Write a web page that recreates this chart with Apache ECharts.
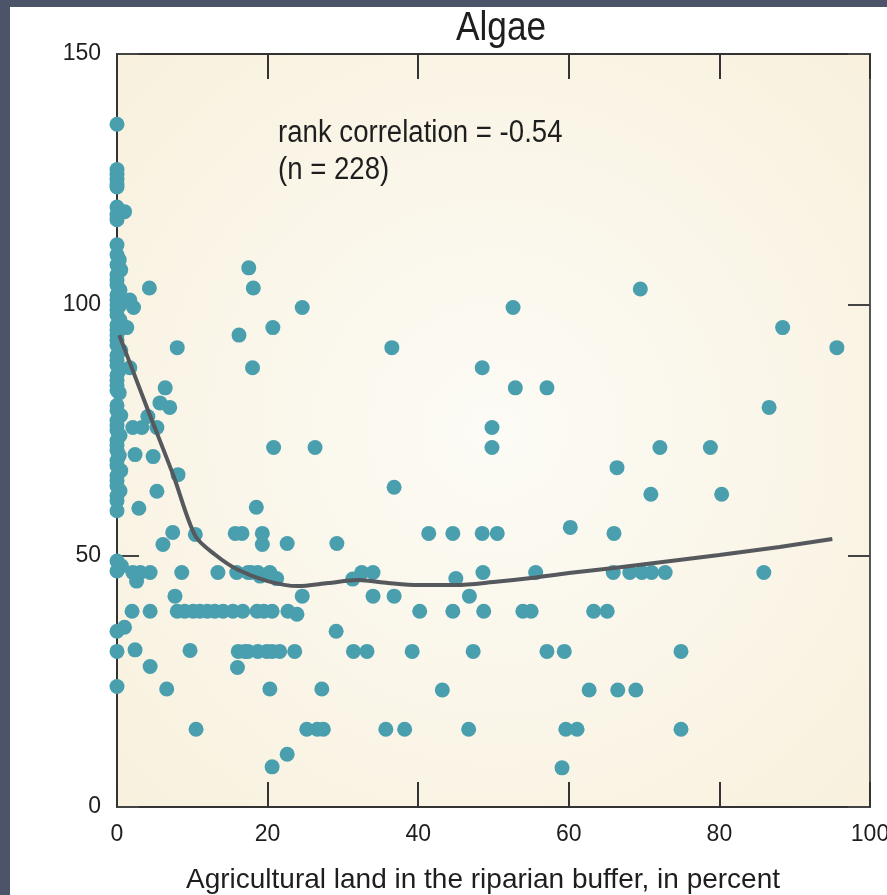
<!DOCTYPE html>
<html>
<head>
<meta charset="utf-8">
<script src="https://cdn.jsdelivr.net/npm/echarts@6/dist/echarts.min.js"></script>
<style>
html,body{margin:0;padding:0;background:#fff;}
#chart{width:887px;height:895px;}
</style>
</head>
<body>
<div id="chart"></div>
<script>
// Tick values
const xTicks = [0, 20, 40, 60, 80, 100];
const yTicks = [0, 50, 100, 150];

// Sites: [agricultural land in riparian buffer (%), algae value]
const siteColumnZero = [
  [0,136],[0,127],[0,126],[0,125],[0,124],[0,123.5],[0,119.5],[0,118],[0,117],
  [0,112],[0,110],[0,108],[0,106],[0,105],[0,104],[0,102],[0,101],[0,100],[0,99],
  [0,98],[0,96],[0,95],[0,94],[0,93],[0,92],[0,90],[0,89],[0,88],[0,86],[0,85],
  [0,84],[0,83],[0,80],[0,79],[0,77],[0,76],[0,75],[0,73],[0,72],[0,71],[0,69],
  [0,68],[0,66],[0,65],[0,64],[0,62],[0,61],[0,59],[0,49],[0,47],[0,35],[0,31],[0,24],
  [0.4,103],[0.4,97],[0.5,91],[0.3,87],[0.5,78],[0.4,74],[0.3,70],[0.5,67],[0.4,63],
  [0.3,109],[0.5,107],[0.4,100],[0.3,82.5]
];
const siteLowAg = [
  [1,118.6],[1.7,101],[2.2,99.5],[1.3,95.5],[1.7,87.5],[1,35.8],[2.4,31.3],[2.1,46.7],
  [3.1,46.7],[2.6,45],[4.4,46.7],[2,39],[4.4,39],[2.1,75.6],[3.3,75.6],[4.1,77.8],
  [5.3,75.6],[2.4,70.2],[4.8,69.8],[2.9,59.5],[5.3,62.9],[4.3,103.4],[8,91.5],
  [6.4,83.5],[5.7,80.5],[7,79.6],[8.1,66.2],[7.4,54.7],[6.1,52.3],[4.4,28],[6.6,23.5],
  [8.6,46.7],[7.7,42],[10.4,54.3],[9.7,31.2],[10.5,15.5],[13.4,46.7],[0.6,48]
];
const siteMidAg = [
  [8,39],[9,39],[10.1,39],[11,39],[12,39],[13,39],[14.1,39],[15.4,39],[16.7,39],
  [18.6,39],[19.5,39],[20.6,39],[22.7,39],[23.9,38.4],
  [15.9,46.7],[17.4,46.7],[17.8,46.7],[18.7,46.7],[19,46],[20.3,46.7],[21.2,45.5],
  [15.7,54.5],[16.6,54.5],[19.3,54.5],[19.3,52.3],
  [16.1,31],[17,31],[17.4,31],[18.7,31],[19.9,31],[20.6,31],[21.6,31],[23.6,31],
  [16,27.8],[20.3,23.5],[27.2,23.5],[24.6,42],
  [16.2,94],[17.5,107.4],[18.1,103.4],[20.7,95.5],[18,87.5],[18.5,59.7],
  [24.6,99.5],[20.8,71.6],[26.3,71.6],[22.6,52.5],[29.2,52.5],[22.6,10.5],[20.6,8],
  [25.2,15.5],[26.6,15.5],[27.4,15.5],
  [29.1,35],[31.3,45.4],[32.5,46.7],[34,46.7],[34,42],[36.8,42],[31.4,31],[33.2,31],
  [35.7,15.5],[38.2,15.5],[36.5,91.5],[36.8,63.7],[39.2,31],[40.2,39]
];
const siteHighAg = [
  [41.4,54.5],[44.6,54.5],[48.5,54.5],[50.5,54.5],[45,45.5],[48.6,46.7],[46.8,42],
  [44.6,39],[48.7,39],[47.3,31],[43.2,23.3],[46.7,15.5],[52.6,99.5],[48.5,87.5],
  [52.9,83.5],[57.1,83.5],[49.8,75.6],[49.8,71.6],[53.9,39],[55,39],[55.6,46.7],
  [57.1,31],[59.4,31],[59.6,15.5],[61.1,15.5],[59.1,7.8],[60.2,55.7],
  [62.7,23.3],[66.5,23.3],[68.9,23.3],[63.3,39],[65.1,39],[74.9,31],[74.9,15.5],
  [66,54.5],[65.9,46.7],[68.1,46.7],[69.7,46.7],[71,46.7],[72.8,46.7],[85.9,46.7],
  [66.4,67.6],[70.9,62.3],[80.3,62.3],[72.1,71.6],[78.8,71.6],[86.6,79.6],
  [69.5,103.2],[88.4,95.5],[95.6,91.5]
];
// Smoothed (loess-like) trend line
const trendLine = [
  [0.3,94],[4,79.5],[7.5,66],[10.4,54],[13,50.3],[16,47.3],[20,45],[24,44],[28,44.6],
  [32,45.2],[36,44.6],[40,44.2],[45,44.2],[50,44.8],[55,45.6],[60,46.6],[66,47.6],
  [73,48.9],[80,50.2],[88,51.8],[95,53.4]
];

const sites = siteColumnZero.concat(siteLowAg, siteMidAg, siteHighAg);

const FONT = '"Liberation Sans", Arial, sans-serif';
const INK = '#1e1e1e';

const chart = echarts.init(document.getElementById('chart'), null, {renderer: 'canvas'});

function xAxisCfg(pos, labels) {
  return {
    type: 'value', position: pos, min: xTicks[0], max: xTicks[xTicks.length - 1],
    interval: xTicks[1] - xTicks[0],
    axisLine: {show: true, onZero: false, lineStyle: {color: '#333', width: 2}},
    axisTick: {show: true, inside: true, length: 25, lineStyle: {color: '#333', width: 2}},
    axisLabel: {show: labels, margin: 16, color: INK, fontFamily: FONT, fontSize: 23},
    splitLine: {show: false}
  };
}
function yAxisCfg(pos, labels) {
  return {
    type: 'value', position: pos, min: yTicks[0], max: yTicks[yTicks.length - 1],
    interval: yTicks[1] - yTicks[0],
    axisLine: {show: true, onZero: false, lineStyle: {color: pos === 'right' ? '#555' : '#333', width: 2}},
    axisTick: {show: true, inside: true, length: 22, lineStyle: {color: '#444', width: 2}},
    axisLabel: {show: labels, margin: 16, color: INK, fontFamily: FONT, fontSize: 23},
    splitLine: {show: false}
  };
}

const xBottom = xAxisCfg('bottom', true);
xBottom.name = 'Agricultural land in the riparian buffer, in percent';
xBottom.nameLocation = 'middle';
xBottom.nameGap = 59;
xBottom.nameTextStyle = {color: INK, fontFamily: FONT, fontSize: 28, padding: [0, 21, 0, 0]};

chart.setOption({
  animation: false,
  backgroundColor: '#ffffff',
  grid: {
    left: 117, top: 54, right: 17, bottom: 88, show: true, borderWidth: 0,
    outerBoundsMode: 'none', containLabel: false,
    backgroundColor: {
      type: 'radial', x: 0.5, y: 0.5, r: 0.75,
      colorStops: [{offset: 0, color: '#fcfbf5'}, {offset: 1, color: '#f8f0dc'}]
    }
  },
  xAxis: [xBottom, xAxisCfg('top', false)],
  yAxis: [yAxisCfg('left', true), yAxisCfg('right', false)],
  graphic: [
    {type: 'rect', shape: {x: 0, y: 0, width: 887, height: 7}, style: {fill: '#4b5468'}, silent: true},
    {type: 'rect', shape: {x: 0, y: 0, width: 10, height: 895}, style: {fill: '#4b5468'}, silent: true},
    {type: 'text', x: 456, y: 8, scaleX: 0.86, style: {text: 'Algae', fill: INK, font: '41px ' + FONT}},
    {type: 'text', x: 278, y: 115, scaleX: 0.89, style: {text: 'rank correlation = -0.54\n(n = 228)', fill: INK, font: '31px ' + FONT, lineHeight: 37}}
  ],
  series: [
    {
      type: 'scatter', xAxisIndex: 0, yAxisIndex: 0, data: sites, symbolSize: 15,
      itemStyle: {color: '#4a9fae', opacity: 1}, silent: true, z: 2
    },
    {
      type: 'line', xAxisIndex: 0, yAxisIndex: 0, data: trendLine, smooth: 0.3,
      showSymbol: false, symbol: 'none', lineStyle: {color: '#55585c', width: 4}, silent: true, z: 3
    }
  ]
});
</script>
</body>
</html>
